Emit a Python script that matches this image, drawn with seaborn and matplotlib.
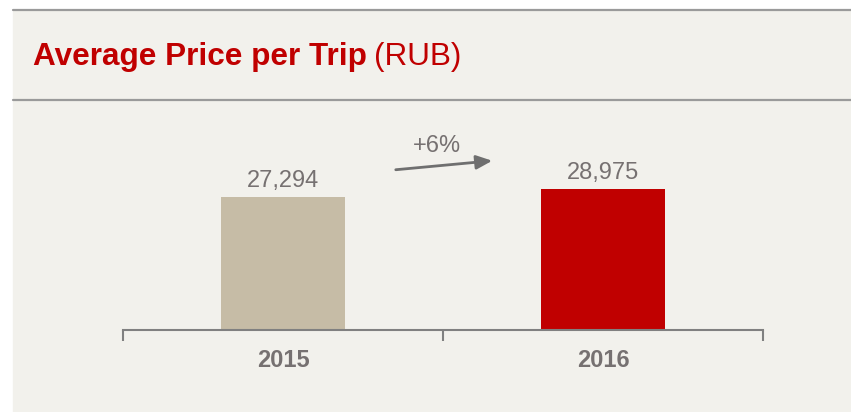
import matplotlib
matplotlib.use("Agg")
import matplotlib.pyplot as plt
from matplotlib.patches import Rectangle
from matplotlib.lines import Line2D
import seaborn as sns
import pandas as pd

years = ["2015", "2016"]
prices = [27294, 28975]
bar_colors = ["#c6bca6", "#c00000"]

BG = "#f2f1ec"
GREY = "#767171"
RED = "#c00000"

sns.set_theme(style="white")
plt.rcParams["font.family"] = ["Liberation Sans", "DejaVu Sans"]

W, H = 851, 412
fig = plt.figure(figsize=(W / 100, H / 100), dpi=100)
fig.patch.set_facecolor("white")

# beige panel and the two horizontal rules
fig.patches.append(Rectangle((13 / W, 0), 1 - 13 / W, 1 - 10 / H,
                             transform=fig.transFigure, color=BG, zorder=-10))
for yy in (10, 100):
    fig.lines.append(Line2D([13 / W, 1], [1 - yy / H, 1 - yy / H],
                            transform=fig.transFigure, color="#9a9a9a", lw=1.6,
                            zorder=-5))

fig.text(33 / W, 1 - 57 / H, "Average Price per Trip", color=RED,
         fontsize=22.7, fontweight="bold", va="center", ha="left")
fig.text(374 / W, 1 - 57 / H, "(RUB)", color=RED, fontsize=22.7,
         va="center", ha="left")

ax = fig.add_axes([123 / W, 1 - 330 / H, 640 / W, 175 / H])
ax.patch.set_alpha(0)

df = pd.DataFrame({"year": years, "price": prices})
sns.barplot(data=df, x="year", y="price", hue="year", palette=bar_colors,
            width=0.385, saturation=1, legend=False, linewidth=0, ax=ax)

ax.set_xlim(-0.5, 1.5)
ax.set_ylim(0, 36000)
ax.set_yticks([])
ax.set_xlabel("")
ax.set_ylabel("")
for s in ("top", "right", "left"):
    ax.spines[s].set_visible(False)
ax.spines["bottom"].set_color("#808080")
ax.spines["bottom"].set_linewidth(1.5)

ax.set_xticks([0, 1])
ax.set_xticklabels(years, fontsize=17, fontweight="bold", color=GREY)
ax.set_xticks([-0.5, 0.5, 1.5], minor=True)
ax.tick_params(axis="x", which="major", length=0, pad=14)
ax.tick_params(axis="x", which="minor", length=8, width=1.5, color="#808080",
               direction="out", bottom=True)

for i, v in enumerate(prices):
    ax.annotate(f"{v:,}", (i, v), xytext=(0, 4), textcoords="offset points",
                ha="center", va="bottom", fontsize=17, color=GREY)

growth = (prices[1] / prices[0] - 1) * 100
fig.text(437 / W, 1 - 146 / H, f"+{growth:.0f}%", fontsize=17, color=GREY,
         ha="center", va="center")
ax.annotate("", xy=(495 / W, 1 - 160.5 / H), xytext=(393 / W, 1 - 170 / H),
            xycoords="figure fraction", textcoords="figure fraction",
            arrowprops=dict(arrowstyle="-|>,head_length=0.8,head_width=0.35",
                            color="#6f6f6f", lw=2))

fig.savefig("out.png", dpi=100, facecolor=fig.get_facecolor())
